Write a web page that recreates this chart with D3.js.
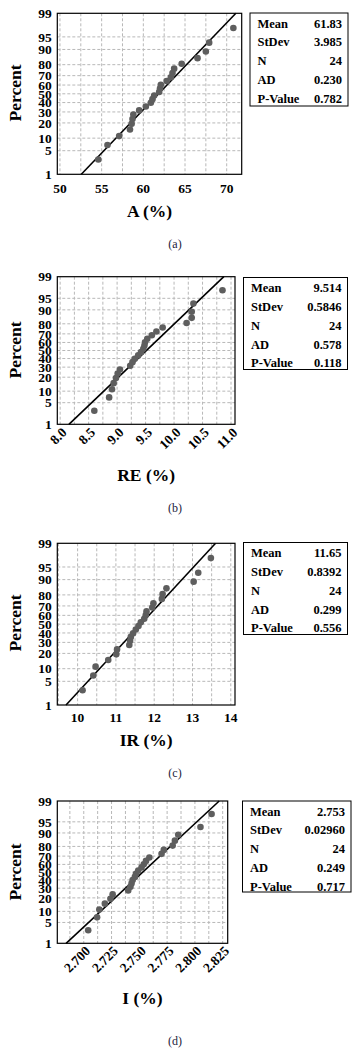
<!DOCTYPE html>
<html>
<head>
<meta charset="utf-8">
<script src="https://cdn.jsdelivr.net/npm/d3@7"></script>
<style>
body { margin: 0; background: #fff; }
svg { display: block; font-family: "Liberation Serif", "DejaVu Serif", serif; }
</style>
</head>
<body>
<div id="chart"></div>
<script>
// percent plotted for each ranked observation (n = 24)
var percentRanks = [2.87, 6.97, 11.07, 15.16, 19.26, 23.36, 27.46, 31.56, 35.66, 39.75, 43.85, 47.95,
    52.05, 56.15, 60.25, 64.34, 68.44, 72.54, 76.64, 80.74, 84.84, 88.93, 93.03, 97.13];
var percentTicks = [1, 5, 10, 20, 30, 40, 50, 60, 70, 80, 90, 95, 99];

var aValues = [54.6, 55.7, 57.1, 58.4, 58.6, 58.7, 58.8, 59.5, 60.3, 60.9, 61.1, 61.3,
    61.9, 62.0, 62.1, 62.8, 63.3, 63.5, 63.7, 64.6, 66.5, 67.5, 67.9, 70.8];
var reValues = [8.60, 8.86, 8.91, 8.94, 8.98, 9.01, 9.05, 9.23, 9.27, 9.31, 9.37, 9.42,
    9.46, 9.48, 9.49, 9.53, 9.61, 9.69, 9.80, 10.22, 10.31, 10.31, 10.34, 10.85];
var irValues = [10.13, 10.41, 10.47, 10.80, 11.01, 11.03, 11.35, 11.37, 11.39, 11.45, 11.52, 11.59,
    11.65, 11.74, 11.78, 11.80, 11.95, 11.98, 12.20, 12.22, 12.32, 13.03, 13.15, 13.48];
var iValues = [2.704, 2.712, 2.714, 2.719, 2.724, 2.726, 2.740, 2.742, 2.743, 2.744, 2.746, 2.747,
    2.749, 2.752, 2.754, 2.756, 2.759, 2.770, 2.772, 2.780, 2.782, 2.785, 2.805, 2.815];

// x tick labels
var aTicks = [50, 55, 60, 65, 70];
var reTicks = [8.0, 8.5, 9.0, 9.5, 10.0, 10.5, 11.0];
var irTicks = [10, 11, 12, 13, 14];
var iTicks = [2.700, 2.725, 2.750, 2.775, 2.800, 2.825];

// summary tables
var statLabels = ["Mean", "StDev", "N", "AD", "P-Value"];
var aStats = ["61.83", "3.985", "24", "0.230", "0.782"];
var reStats = ["9.514", "0.5846", "24", "0.578", "0.118"];
var irStats = ["11.65", "0.8392", "24", "0.299", "0.556"];
var iStats = ["2.753", "0.02960", "24", "0.249", "0.717"];

var titles = ["A (%)", "RE (%)", "IR (%)", "I (%)"];
var captions = ["(a)", "(b)", "(c)", "(d)"];

// inverse normal cdf (Acklam)
function probit(p) {
    var a = [-39.6968302866538, 220.946098424521, -275.928510446969, 138.357751867269, -30.6647980661472, 2.50662827745924];
    var b = [-54.4760987982241, 161.585836858041, -155.698979859887, 66.8013118877197, -13.2806815528857];
    var c = [-0.00778489400243029, -0.322396458041136, -2.40075827716184, -2.54973253934373, 4.37466414146497, 2.93816398269878];
    var d = [0.00778469570904146, 0.32246712907004, 2.445134137143, 3.75440866190742];
    var q, r;
    if (p < 0.02425) {
        q = Math.sqrt(-2 * Math.log(p));
        return (((((c[0] * q + c[1]) * q + c[2]) * q + c[3]) * q + c[4]) * q + c[5]) /
            ((((d[0] * q + d[1]) * q + d[2]) * q + d[3]) * q + 1);
    }
    if (p > 1 - 0.02425) return -probit(1 - p);
    q = p - 0.5; r = q * q;
    return (((((a[0] * r + a[1]) * r + a[2]) * r + a[3]) * r + a[4]) * r + a[5]) * q /
        (((((b[0] * r + b[1]) * r + b[2]) * r + b[3]) * r + b[4]) * r + 1);
}

// panel layout
var panels = [
    {values: aValues, stats: aStats, ticks: aTicks, fmt: d3.format(".0f"), step: 2.5, rotate: false,
        left: 57.3, right: 241.7, top: 13.3, bottom: 174.3, xlo: 49.68, xhi: 71.8,
        tickY: 193, titleY: 217, percentY: 93, captionY: 248, legend: [250, 13, 98, 93]},
    {values: reValues, stats: reStats, ticks: reTicks, fmt: d3.format(".1f"), step: 0.25, rotate: true,
        left: 57.3, right: 235, top: 276.7, bottom: 424.3, xlo: 7.95, xhi: 11.07,
        tickY: 430, titleY: 481, percentY: 350, captionY: 512, legend: [243.5, 277.5, 104, 92]},
    {values: irValues, stats: irStats, ticks: irTicks, fmt: d3.format(".0f"), step: 0.5, rotate: false,
        left: 57.3, right: 235, top: 543.3, bottom: 705, xlo: 9.47, xhi: 14.11,
        tickY: 721.5, titleY: 746, percentY: 623, captionY: 777, legend: [243.5, 542.5, 104, 92]},
    {values: iValues, stats: iStats, ticks: iTicks, fmt: d3.format(".3f"), step: 0.0125, rotate: true,
        left: 57.3, right: 227.7, top: 801, bottom: 943.3, xlo: 2.6762, xhi: 2.8295,
        tickY: 948.5, titleY: 1004, percentY: 872, captionY: 1045, legend: [242.5, 801, 108.5, 91]}
];

var svg = d3.select("#chart").append("svg")
    .attr("width", 358)
    .attr("height", 1050);

var zMax = probit(0.99);

panels.forEach(function (p, k) {
    var g = svg.append("g");
    var x = d3.scaleLinear().domain([p.xlo, p.xhi]).range([p.left, p.right]);
    var z = d3.scaleLinear().domain([-zMax, zMax]).range([p.bottom, p.top]);
    var y = function (pct) { return z(probit(pct / 100)); };

    // grid
    var gridX = d3.range(Math.ceil(p.xlo / p.step - 1e-6), Math.floor(p.xhi / p.step + 1e-6) + 1)
        .map(function (i) { return i * p.step; });
    g.selectAll(".gx").data(gridX).enter().append("line")
        .attr("x1", function (d) { return x(d); }).attr("x2", function (d) { return x(d); })
        .attr("y1", p.top).attr("y2", p.bottom)
        .attr("stroke", "#b8b8b8").attr("stroke-width", 1).attr("stroke-dasharray", "3,2");
    g.selectAll(".gy").data(percentTicks.slice(1, -1)).enter().append("line")
        .attr("x1", p.left).attr("x2", p.right)
        .attr("y1", function (d) { return y(d); }).attr("y2", function (d) { return y(d); })
        .attr("stroke", "#b8b8b8").attr("stroke-width", 1).attr("stroke-dasharray", "3,2");

    // frame
    g.append("rect")
        .attr("x", p.left).attr("y", p.top)
        .attr("width", p.right - p.left).attr("height", p.bottom - p.top)
        .attr("fill", "none").attr("stroke", "#000").attr("stroke-width", 1.2);

    // fitted line from 1% to 99%
    var mean = +p.stats[0], sd = +p.stats[1];
    g.append("line")
        .attr("x1", x(mean - zMax * sd)).attr("y1", y(1))
        .attr("x2", x(mean + zMax * sd)).attr("y2", y(99))
        .attr("stroke", "#000").attr("stroke-width", 1.6);

    // points
    g.selectAll(".pt").data(p.values).enter().append("circle")
        .attr("cx", function (d) { return x(d); })
        .attr("cy", function (d, i) { return y(percentRanks[i]); })
        .attr("r", 3.3)
        .attr("fill", "#5e5e5e");

    // y tick labels
    g.selectAll(".yl").data(percentTicks).enter().append("text")
        .attr("x", p.left - 5.5)
        .attr("y", function (d) { return y(d); })
        .attr("dy", "0.35em")
        .attr("text-anchor", "end")
        .attr("font-size", 13.5).attr("font-weight", "bold")
        .text(function (d) { return d; });

    // x tick labels
    if (p.rotate) {
        g.selectAll(".xl").data(p.ticks).enter().append("text")
            .attr("transform", function (d) {
                return "translate(" + (x(d) + 4) + "," + p.tickY + ") rotate(-45)";
            })
            .attr("dy", "0.35em")
            .attr("text-anchor", "end")
            .attr("font-size", 13.5).attr("font-weight", "bold")
            .text(function (d) { return p.fmt(d); });
    } else {
        g.selectAll(".xl").data(p.ticks).enter().append("text")
            .attr("x", function (d) { return x(d); })
            .attr("y", p.tickY)
            .attr("text-anchor", "middle")
            .attr("font-size", 13.5).attr("font-weight", "bold")
            .text(function (d) { return p.fmt(d); });
    }

    // axis titles
    g.append("text")
        .attr("x", (p.left + p.right) / 2).attr("y", p.titleY)
        .attr("text-anchor", "middle")
        .attr("font-size", 17.5).attr("font-weight", "bold")
        .text(titles[k]);
    g.append("text")
        .attr("transform", "translate(15," + p.percentY + ") rotate(-90)")
        .attr("dy", "0.35em")
        .attr("text-anchor", "middle")
        .attr("font-size", 17.5).attr("font-weight", "bold")
        .text("Percent");

    // summary box
    var L = p.legend;
    g.append("rect")
        .attr("x", L[0]).attr("y", L[1]).attr("width", L[2]).attr("height", L[3])
        .attr("fill", "#fff").attr("stroke", "#000").attr("stroke-width", 1);
    g.selectAll(".sl").data(statLabels).enter().append("text")
        .attr("x", L[0] + 7.5)
        .attr("y", function (d, i) { return L[1] + 14.6 + i * 18.8; })
        .attr("font-size", 12.5).attr("font-weight", "bold")
        .text(function (d) { return d; });
    g.selectAll(".sv").data(p.stats).enter().append("text")
        .attr("x", L[0] + L[2] - 6)
        .attr("y", function (d, i) { return L[1] + 14.6 + i * 18.8; })
        .attr("text-anchor", "end")
        .attr("font-size", 12.5).attr("font-weight", "bold")
        .text(function (d) { return d; });

    // caption
    g.append("text")
        .attr("x", 175).attr("y", p.captionY)
        .attr("text-anchor", "middle")
        .attr("font-size", 12)
        .attr("fill", "#1c1c3c")
        .text(captions[k]);
});
</script>
</body>
</html>
